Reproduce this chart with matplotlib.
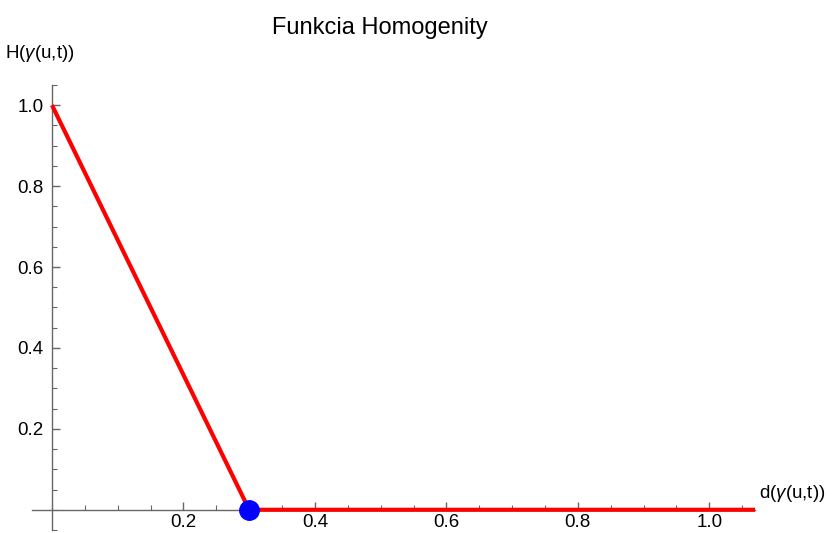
import numpy as np
import matplotlib
matplotlib.use("Agg")
import matplotlib.pyplot as plt
from matplotlib.ticker import MultipleLocator, FixedLocator

plt.rcParams.update({"font.family": "Liberation Sans",
                     "mathtext.fontset": "custom",
                     "mathtext.rm": "Liberation Sans",
                     "mathtext.it": "Liberation Sans:italic"})

# piecewise homogeneity function H(d)
d_vals = [0.0, 0.3, 1.07]
h_vals = [1.0, 0.0, 0.0]
knot_x = [0.3]
knot_y = [0.0]
x_ticks = [0.2, 0.4, 0.6, 0.8, 1.0]
y_ticks = [0.2, 0.4, 0.6, 0.8, 1.0]

AX = "#666666"
fig = plt.figure(figsize=(8.32, 5.33), dpi=100)
ax = fig.add_axes([0.0388, 0.0056, 0.869, 0.835])
ax.set_xlim(-0.03, 1.07)
ax.set_ylim(-0.05, 1.05)

ax.plot(d_vals, h_vals, color="#ff0000", lw=3, solid_capstyle="butt", zorder=3)
ax.plot(knot_x, knot_y, "o", color="#0000ff", ms=14, zorder=4, clip_on=False)

for s in ["top", "right"]:
    ax.spines[s].set_visible(False)
ax.spines["left"].set_position(("data", 0))
ax.spines["bottom"].set_position(("data", 0))
for s in ["left", "bottom"]:
    ax.spines[s].set_color(AX)
    ax.spines[s].set_linewidth(1)

ax.xaxis.set_major_locator(FixedLocator(x_ticks))
ax.yaxis.set_major_locator(FixedLocator(y_ticks))
ax.xaxis.set_minor_locator(MultipleLocator(0.05))
ax.yaxis.set_minor_locator(MultipleLocator(0.05))
ax.set_xticklabels([f"{v:.1f}" for v in x_ticks])
ax.set_yticklabels([f"{v:.1f}" for v in y_ticks])
ax.tick_params(which="both", direction="in", color=AX, labelsize=13.5)
ax.tick_params(which="major", length=6, width=1)
ax.tick_params(which="minor", length=3.5, width=0.8)
ax.tick_params(axis="y", which="major", pad=6)
ax.tick_params(axis="x", which="major", pad=3)

ax.text(1.075, 0.015, r"d($\mathit{\gamma}$(u,t))", fontsize=13.5,
        ha="left", va="bottom", transform=ax.transData, clip_on=False)
fig.text(0.006, 0.9, r"H($\mathit{\gamma}$(u,t))", fontsize=13.5,
         ha="left", va="center")
fig.text(0.457, 0.947, "Funkcia Homogenity", fontsize=17, ha="center", va="center")

fig.savefig("out.png", dpi=100, facecolor="white")
